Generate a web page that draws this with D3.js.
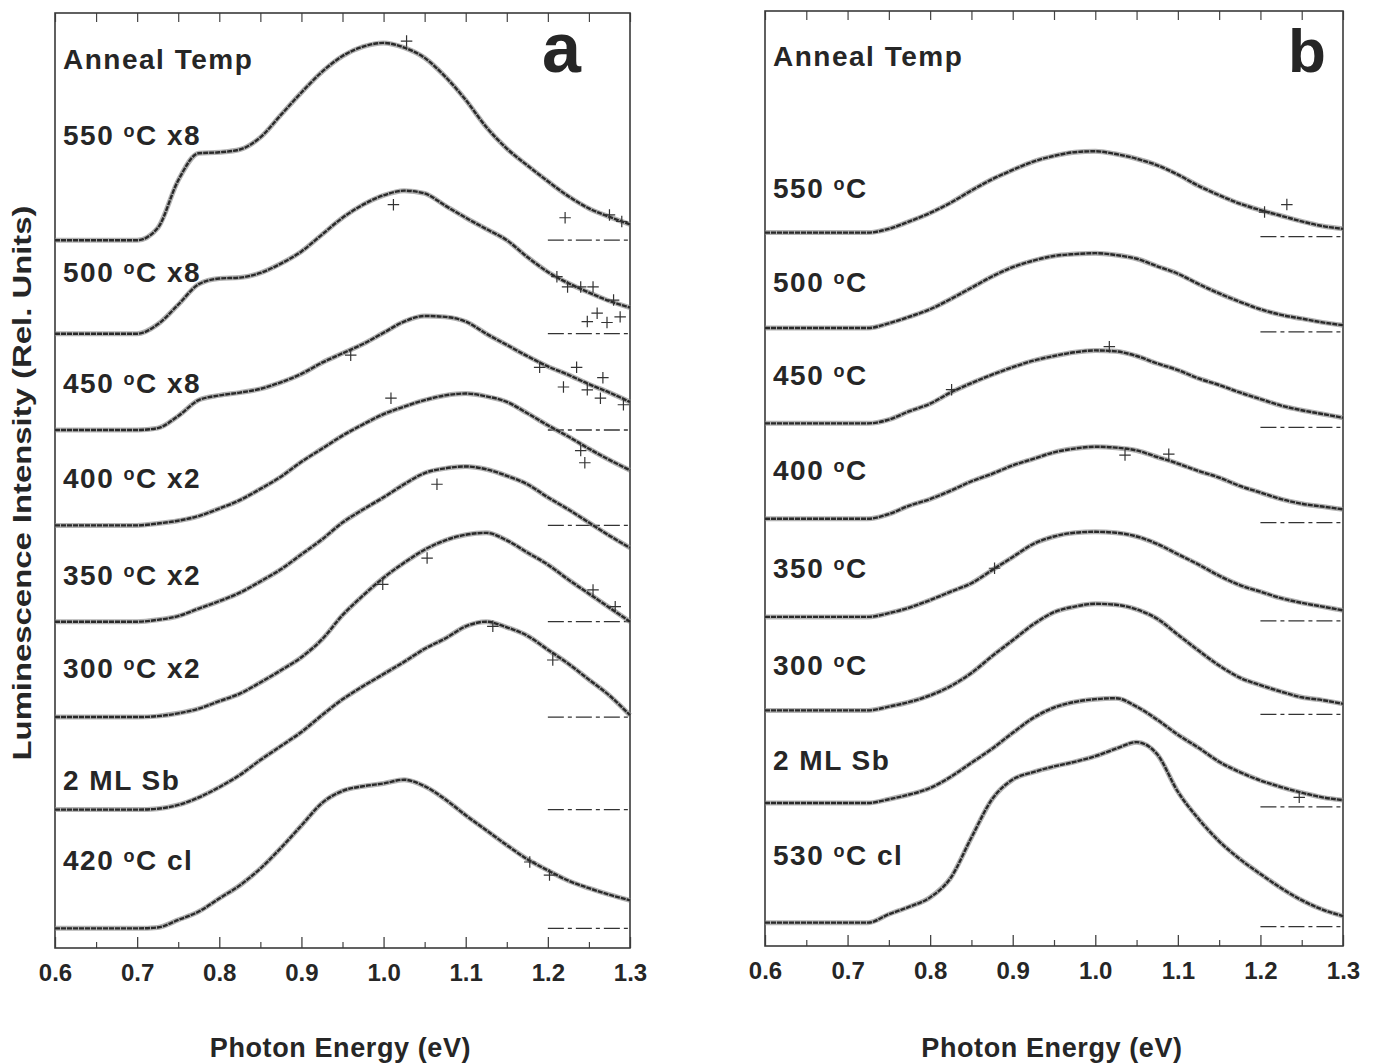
<!DOCTYPE html>
<html>
<head>
<meta charset="utf-8">
<script src="https://cdn.jsdelivr.net/npm/d3@7/dist/d3.min.js"></script>
<style>
  body { margin: 0; background: #fff; }
  svg { display: block; }
  text { font-family: "Liberation Sans", Arial, sans-serif; font-weight: bold; fill: #262626; }
</style>
</head>
<body>
<div id="chart"></div>
<script>
/* spectres de luminescence, deux panneaux (a, b), courbes décalées verticalement.
 * valeurs (hauteur au-dessus de la ligne de base, unités relatives) */

const energy = [0.6, 0.625, 0.65, 0.675, 0.7, 0.725, 0.75, 0.775, 0.8, 0.825, 0.85, 0.875, 0.9, 0.925,
  0.95, 0.975, 1.0, 1.025, 1.05, 1.075, 1.1, 1.125, 1.15, 1.175, 1.2, 1.225, 1.25, 1.275, 1.3]

const ticksMajor = [0.6, 0.7, 0.8, 0.9, 1.0, 1.1, 1.2, 1.3]
const ticksMinor = [0.65, 0.75, 0.85, 0.95, 1.05, 1.15, 1.25]

// panneau a
const labelsA = ["550 |C x8", "500 |C x8", "450 |C x8", "400 |C x2", "350 |C x2", "300 |C x2", "2 ML Sb", "420 |C cl"]
const offsetsA = [7.57, 6.57, 5.54, 4.52, 3.49, 2.47, 1.48, 0.21]
const a550 = [0, 0, 0, 0, 0, 0.13, 0.64, 0.93, 0.94, 0.97, 1.10, 1.34, 1.58, 1.80, 1.97, 2.07, 2.11, 2.06, 1.95, 1.75, 1.50, 1.21, 0.98, 0.80, 0.63, 0.47, 0.34, 0.25, 0.17]
const a500 = [0, 0, 0, 0, 0, 0.10, 0.31, 0.53, 0.59, 0.60, 0.65, 0.75, 0.88, 1.06, 1.24, 1.38, 1.48, 1.53, 1.50, 1.37, 1.24, 1.12, 1.00, 0.82, 0.66, 0.54, 0.44, 0.35, 0.28]
const a450 = [0, 0, 0, 0, 0, 0.02, 0.15, 0.32, 0.37, 0.40, 0.44, 0.51, 0.60, 0.72, 0.82, 0.92, 1.04, 1.16, 1.22, 1.21, 1.16, 1.03, 0.91, 0.79, 0.68, 0.59, 0.49, 0.40, 0.30]
const a400 = [0, 0, 0, 0, 0, 0.02, 0.05, 0.10, 0.18, 0.27, 0.39, 0.52, 0.68, 0.82, 0.96, 1.08, 1.19, 1.27, 1.34, 1.39, 1.41, 1.38, 1.32, 1.20, 1.07, 0.95, 0.82, 0.70, 0.59]
const a350 = [0, 0, 0, 0, 0, 0.02, 0.06, 0.14, 0.22, 0.31, 0.43, 0.56, 0.72, 0.88, 1.06, 1.20, 1.33, 1.47, 1.59, 1.64, 1.66, 1.63, 1.56, 1.47, 1.33, 1.20, 1.06, 0.92, 0.79]
const a300 = [0, 0, 0, 0, 0, 0.01, 0.04, 0.09, 0.17, 0.25, 0.37, 0.50, 0.64, 0.83, 1.09, 1.30, 1.49, 1.65, 1.79, 1.89, 1.95, 1.97, 1.89, 1.76, 1.63, 1.47, 1.32, 1.17, 1.02]
const a2ml = [0, 0, 0, 0, 0, 0.01, 0.05, 0.13, 0.24, 0.37, 0.53, 0.68, 0.83, 1.01, 1.18, 1.32, 1.45, 1.58, 1.72, 1.83, 1.96, 2.01, 1.95, 1.86, 1.71, 1.56, 1.39, 1.22, 1.01]
const a420 = [0, 0, 0, 0, 0, 0.01, 0.09, 0.18, 0.32, 0.46, 0.64, 0.86, 1.10, 1.34, 1.47, 1.52, 1.55, 1.59, 1.52, 1.38, 1.21, 1.05, 0.89, 0.74, 0.62, 0.51, 0.43, 0.36, 0.30]
// points isolés (+) : [courbe, énergie, hauteur]
const strayA = [[0, 1.028, 2.13], [0, 1.221, 0.24], [0, 1.275, 0.27], [0, 1.29, 0.20],
  [1, 1.012, 1.38], [1, 1.211, 0.61], [1, 1.224, 0.50], [1, 1.24, 0.50], [1, 1.255, 0.50],
  [1, 1.248, 0.13], [1, 1.26, 0.22], [1, 1.272, 0.12], [1, 1.28, 0.36], [1, 1.288, 0.18],
  [2, 0.96, 0.80], [2, 1.19, 0.67], [2, 1.219, 0.46], [2, 1.248, 0.43], [2, 1.264, 0.34],
  [2, 1.292, 0.27], [2, 1.235, 0.67], [2, 1.267, 0.56],
  [3, 1.009, 1.36], [3, 1.24, 0.80], [3, 1.245, 0.67],
  [4, 1.065, 1.47],
  [5, 0.999, 1.42], [5, 1.053, 1.70], [5, 1.255, 1.36], [5, 1.282, 1.18],
  [6, 1.133, 1.96], [6, 1.206, 1.60],
  [7, 1.178, 0.71], [7, 1.202, 0.57]]

// panneau b
const labelsB = ["550 |C", "500 |C", "450 |C", "400 |C", "350 |C", "300 |C", "2 ML Sb", "530 |C cl"]
const offsetsB = [7.63, 6.61, 5.59, 4.57, 3.52, 2.52, 1.53, 0.25]
const b550 = [0, 0, 0, 0, 0, 0, 0.04, 0.12, 0.21, 0.32, 0.45, 0.57, 0.67, 0.76, 0.82, 0.86, 0.87, 0.84, 0.79, 0.72, 0.62, 0.50, 0.40, 0.31, 0.24, 0.18, 0.12, 0.07, 0.04]
const b500 = [0, 0, 0, 0, 0, 0, 0.05, 0.12, 0.20, 0.31, 0.43, 0.55, 0.65, 0.72, 0.77, 0.79, 0.80, 0.78, 0.74, 0.66, 0.58, 0.47, 0.37, 0.28, 0.20, 0.14, 0.10, 0.06, 0.03]
const b450 = [0, 0, 0, 0, 0, 0, 0.04, 0.13, 0.21, 0.33, 0.43, 0.52, 0.60, 0.67, 0.72, 0.76, 0.78, 0.77, 0.72, 0.64, 0.57, 0.48, 0.41, 0.33, 0.26, 0.19, 0.14, 0.10, 0.06]
const b400 = [0, 0, 0, 0, 0, 0, 0.05, 0.14, 0.21, 0.30, 0.40, 0.48, 0.57, 0.64, 0.71, 0.75, 0.77, 0.76, 0.73, 0.66, 0.59, 0.51, 0.44, 0.35, 0.28, 0.21, 0.16, 0.13, 0.10]
const b350 = [0, 0, 0, 0, 0, 0, 0.04, 0.10, 0.18, 0.27, 0.36, 0.50, 0.64, 0.78, 0.86, 0.90, 0.91, 0.90, 0.86, 0.78, 0.67, 0.56, 0.44, 0.34, 0.27, 0.20, 0.15, 0.11, 0.07]
const b300 = [0, 0, 0, 0, 0, 0, 0.04, 0.09, 0.16, 0.26, 0.40, 0.58, 0.75, 0.92, 1.05, 1.11, 1.14, 1.13, 1.08, 0.98, 0.81, 0.64, 0.48, 0.35, 0.27, 0.20, 0.14, 0.11, 0.07]
const b2ml = [0, 0, 0, 0, 0, 0, 0.04, 0.09, 0.16, 0.28, 0.43, 0.58, 0.75, 0.91, 1.02, 1.08, 1.11, 1.12, 1.03, 0.89, 0.73, 0.59, 0.44, 0.33, 0.24, 0.17, 0.11, 0.06, 0.03]
const b530 = [0, 0, 0, 0, 0, 0, 0.09, 0.17, 0.27, 0.48, 0.91, 1.32, 1.53, 1.61, 1.67, 1.72, 1.78, 1.86, 1.93, 1.80, 1.40, 1.11, 0.87, 0.68, 0.52, 0.37, 0.24, 0.14, 0.07]
const strayB = [[0, 1.232, 0.30], [0, 1.205, 0.22], [2, 1.017, 0.82], [2, 0.826, 0.36],
  [3, 1.036, 0.68], [3, 1.089, 0.69], [4, 0.878, 0.52], [6, 1.247, 0.06]]

const seriesA = [a550, a500, a450, a400, a350, a300, a2ml, a420]
const seriesB = [b550, b500, b450, b400, b350, b300, b2ml, b530]

const W = 1377, H = 1063
const svg = d3.select("#chart").append("svg")
  .attr("width", W)
  .attr("height", H)

/* un panneau: cadre, graduations, courbes, étiquettes */
function panel(p) {
  const x = d3.scaleLinear().domain([0.6, 1.3]).range([p.left, p.right])
  const y = d3.scaleLinear().domain([0, 10]).range([p.bottom, p.top])
  const g = svg.append("g")

  // graduations en bas (vers l'intérieur) + libellés
  g.append("g")
    .attr("transform", "translate(0," + p.bottom + ")")
    .call(d3.axisBottom(x).tickValues(ticksMajor).tickSize(-11).tickPadding(16).tickFormat(d3.format(".1f")))
    .call(s => s.select(".domain").remove())
    .call(s => s.selectAll("line").attr("stroke", "#444").attr("stroke-width", 1.3))
    .call(s => s.selectAll("text").attr("font-size", 24).attr("fill", "#262626")
      .attr("font-family", "'Liberation Sans', Arial, sans-serif").attr("font-weight", "bold"))
  g.append("g")
    .attr("transform", "translate(0," + p.bottom + ")")
    .call(d3.axisBottom(x).tickValues(ticksMinor).tickSize(-6).tickFormat(""))
    .call(s => s.select(".domain").remove())
    .call(s => s.selectAll("line").attr("stroke", "#444").attr("stroke-width", 1.2))
  // graduations en haut
  g.append("g")
    .attr("transform", "translate(0," + p.top + ")")
    .call(d3.axisTop(x).tickValues(ticksMajor.concat(ticksMinor)).tickSize(-9).tickFormat(""))
    .call(s => s.select(".domain").remove())
    .call(s => s.selectAll("line").attr("stroke", "#444").attr("stroke-width", 1.2))

  // cadre
  g.append("rect")
    .attr("x", p.left).attr("y", p.top)
    .attr("width", p.right - p.left).attr("height", p.bottom - p.top)
    .attr("fill", "none").attr("stroke", "#3a3a3a").attr("stroke-width", 1.6)

  // lignes de base (tirets) à droite
  g.selectAll(".base")
    .data(p.offsets)
    .join("line")
    .attr("x1", x(1.2)).attr("x2", x(1.3))
    .attr("y1", d => y(d) + p.dashShift).attr("y2", d => y(d) + p.dashShift)
    .attr("stroke", "#333").attr("stroke-width", 1.3)
    .attr("stroke-dasharray", "16,4,4,4")

  const line = d3.line()
    .x(d => x(d[0]))
    .y(d => y(d[1]))
    .curve(d3.curveMonotoneX)

  const curves = p.series.map((s, i) => s.map((v, j) => [energy[j], p.offsets[i] + v]))

  // halo gris + trait sombre pour imiter les "+" serrés
  g.selectAll(".halo")
    .data(curves)
    .join("path")
    .attr("d", line)
    .attr("fill", "none").attr("stroke", "#8a8a8a").attr("stroke-width", 5).attr("stroke-opacity", 0.65)
  g.selectAll(".trace")
    .data(curves)
    .join("path")
    .attr("d", line)
    .attr("fill", "none").attr("stroke", "#2a2a2a").attr("stroke-width", 2.4)
    .attr("stroke-dasharray", "5,1")

  // points isolés
  g.selectAll(".stray")
    .data(p.stray)
    .join("path")
    .attr("transform", d => "translate(" + x(d[1]) + "," + y(p.offsets[d[0]] + d[2]) + ")")
    .attr("d", d3.symbol(d3.symbolPlus, 45))
    .attr("fill", "none").attr("stroke", "#333").attr("stroke-width", 1.2)

  // étiquettes des courbes
  const lab = g.selectAll(".lab")
    .data(p.labels)
    .join("text")
    .attr("x", p.left + 8)
    .attr("y", (d, i) => p.labelY[i] + 10)
    .attr("font-size", 28)
    .attr("letter-spacing", 1.5)
  lab.each(function(d) {
    const t = d3.select(this)
    const parts = d.split("|")
    t.append("tspan").text(parts[0])
    if (parts.length > 1) {
      t.append("tspan").attr("font-size", 18).attr("dy", -8).text("o")
      t.append("tspan").attr("dy", 8).text(parts[1])
    }
  })

  g.append("text")
    .attr("x", p.left + 8).attr("y", p.annealY)
    .attr("font-size", 28)
    .attr("letter-spacing", 1.5)
    .text("Anneal Temp")

  g.append("text")
    .attr("x", p.letterX).attr("y", 72)
    .attr("font-size", p.letterSize)
    .attr("fill", "#4a4a4a")
    .text(p.letter)

  // titre de l'axe x
  g.append("text")
    .attr("x", (p.left + p.right) / 2 - 2).attr("y", 1057)
    .attr("text-anchor", "middle")
    .attr("font-size", 27)
    .attr("letter-spacing", 0.6)
    .text("Photon Energy (eV)")
}

panel({
  left: 55, right: 630, top: 13, bottom: 948,
  series: seriesA, offsets: offsetsA, labels: labelsA, stray: strayA,
  labelY: [135, 272, 383, 478, 575, 668, 780, 860], annealY: 69,
  letter: "a", letterX: 542, letterSize: 70, dashShift: 0
})
panel({
  left: 765, right: 1343, top: 11, bottom: 946,
  series: seriesB, offsets: offsetsB, labels: labelsB, stray: strayB,
  labelY: [188, 282, 375, 470, 568, 665, 760, 855], annealY: 66,
  letter: "b", letterX: 1288, letterSize: 62, dashShift: 4
})

// titre de l'axe y
svg.append("text")
  .attr("transform", "translate(31,483) rotate(-90)")
  .attr("text-anchor", "middle")
  .attr("font-size", 26)
  .attr("textLength", 555)
  .attr("lengthAdjust", "spacingAndGlyphs")
  .text("Luminescence Intensity (Rel. Units)")
</script>
</body>
</html>
